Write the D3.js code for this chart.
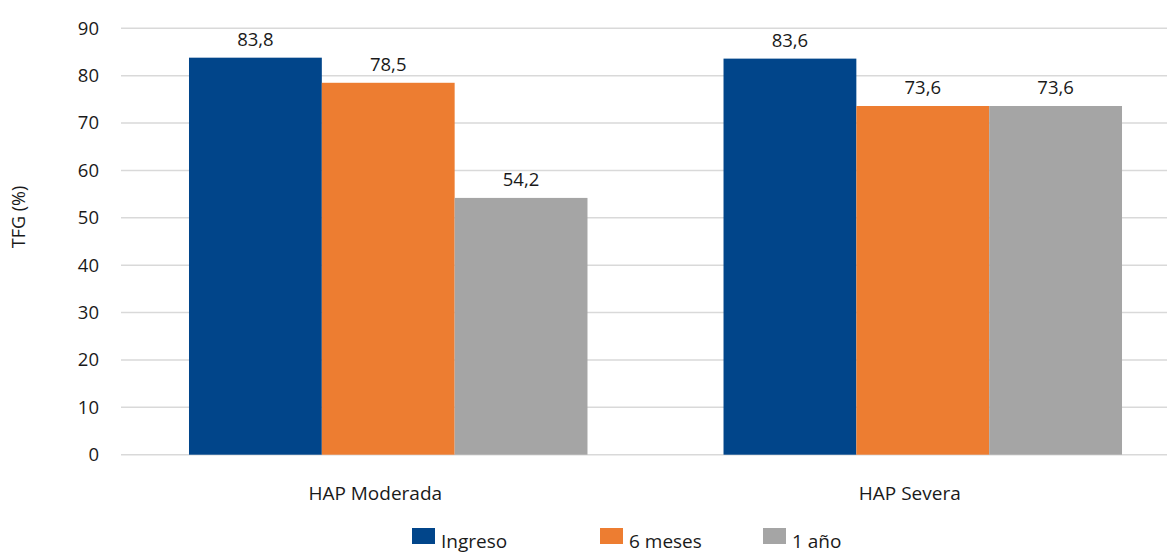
<!DOCTYPE html>
<html><head><meta charset="utf-8">
<script src="https://cdn.jsdelivr.net/npm/d3@7"></script>
<style>
html,body{margin:0;padding:0;background:#fff;overflow:hidden}
text{font-family:"Open Sans",sans-serif;fill:#1a1a1a}
</style></head>
<body>
<svg id="c" width="1167" height="554"></svg>
<script>
const categories = ["HAP Moderada", "HAP Severa"];
const seriesNames = ["Ingreso", "6 meses", "1 año"];
const ingreso = [83.8, 83.6];
const seisMeses = [78.5, 73.6];
const unAno = [54.2, 73.6];
const seriesValues = [ingreso, seisMeses, unAno];
const colors = ["#01458a", "#ed7d31", "#a5a5a5"];
const yTicks = [0, 10, 20, 30, 40, 50, 60, 70, 80, 90];
const yTitle = "TFG (%)";

(function () {
const svg = d3.select("#c");
const pLeft = 121, pRight = 1190, pTop = 28.3, pBottom = 454.7;
const x0 = d3.scaleBand().domain(categories).range([pLeft, pRight]).paddingInner(0.2545).paddingOuter(0.1272);
const x1 = d3.scaleBand().domain(seriesNames).range([0, x0.bandwidth()]);
const y = d3.scaleLinear().domain([0, 90]).range([pBottom, pTop]);

const yAxis = d3.axisLeft(y).tickValues(yTicks).tickSize(0).tickPadding(22);
const gAxis = svg.append("g").attr("transform", `translate(${pLeft},0)`).call(yAxis);
gAxis.select(".domain").remove();
gAxis.selectAll("text").style("font-size", "18.5px").style("font-family", "'Open Sans',sans-serif").attr("fill", "#1a1a1a");
svg.append("g").selectAll("line").data(yTicks).join("line")
  .attr("x1", pLeft).attr("x2", pRight)
  .attr("y1", d => y(d)).attr("y2", d => y(d))
  .attr("stroke", "#d9d9d9").attr("stroke-width", 1.5);

const groups = svg.append("g").selectAll("g").data(categories).join("g")
  .attr("transform", d => `translate(${x0(d)},0)`);
groups.selectAll("rect").data((d, i) => seriesNames.map((s, j) => ({s, j, v: seriesValues[j][i]})))
  .join("rect")
  .attr("x", d => x1(d.s)).attr("width", x1.bandwidth())
  .attr("y", d => y(d.v)).attr("height", d => pBottom - y(d.v))
  .attr("fill", d => colors[d.j]);
groups.selectAll("text.val").data((d, i) => seriesNames.map((s, j) => ({s, j, v: seriesValues[j][i]})))
  .join("text").attr("class", "val")
  .attr("x", d => x1(d.s) + x1.bandwidth() / 2)
  .attr("y", d => y(d.v) - 12)
  .attr("text-anchor", "middle").style("font-size", "18.5px")
  .text(d => d.v.toFixed(1).replace(".", ","));

svg.append("g").selectAll("text").data(categories).join("text")
  .attr("x", d => x0(d) + x0.bandwidth() / 2 - 13)
  .attr("y", 500).attr("text-anchor", "middle").style("font-size", "19px")
  .text(d => d);

svg.append("text").attr("transform", "translate(25,217) rotate(-90)")
  .attr("text-anchor", "middle").style("font-size", "18px").text(yTitle);

const legX = [412, 600, 763];
const leg = svg.append("g").selectAll("g").data(seriesNames).join("g")
  .attr("transform", (d, i) => `translate(${legX[i]},528)`);
leg.append("rect").attr("width", 23).attr("height", 16).attr("fill", (d, i) => colors[i]);
leg.append("text").attr("x", 29).attr("y", 20).style("font-size", "19px").text(d => d);
})();
</script>
</body></html>
